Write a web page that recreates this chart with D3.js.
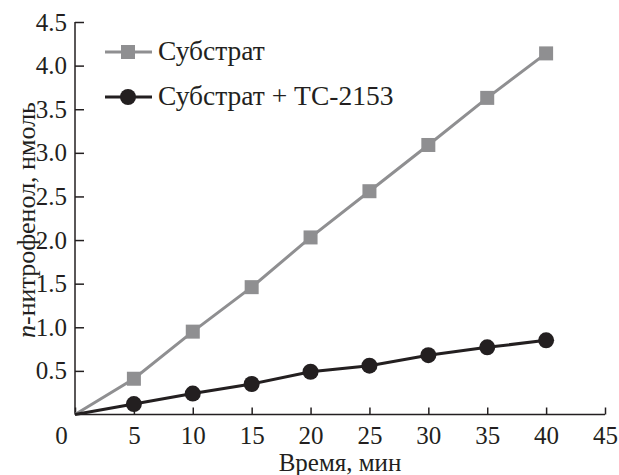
<!DOCTYPE html>
<html>
<head>
<meta charset="utf-8">
<script src="https://cdn.jsdelivr.net/npm/d3@7"></script>
<style>
  html, body { margin: 0; padding: 0; background: #fff; }
  svg { display: block; }
</style>
</head>
<body>
<svg id="chart" width="619" height="475"></svg>
<script>
const times = [0, 5, 10, 15, 20, 25, 30, 35, 40];
const substrate = [0, 0.41, 0.95, 1.46, 2.03, 2.56, 3.09, 3.63, 4.14];
const substrateTC = [0, 0.12, 0.24, 0.35, 0.49, 0.56, 0.68, 0.77, 0.85];
const xTicks = [0, 5, 10, 15, 20, 25, 30, 35, 40, 45];
const yTicks = [0.5, 1.0, 1.5, 2.0, 2.5, 3.0, 3.5, 4.0, 4.5];
const seriesNames = ["Субстрат", "Субстрат + ТС-2153"];

const FONT = '"Liberation Serif"';
const svg = d3.select("#chart");
const x = d3.scaleLinear().domain([0, 45]).range([75, 605]);
const y = d3.scaleLinear().domain([0, 4.5]).range([414.5, 22]);
const grey = "#8f8f91", black = "#231f20";

// axes
const xAxis = svg.append("g").attr("transform", `translate(0,${y(0)})`)
  .call(d3.axisBottom(x).tickValues(xTicks).tickSize(-7).tickPadding(12).tickFormat(d => d));
const yAxis = svg.append("g").attr("transform", `translate(${x(0)},0)`)
  .call(d3.axisLeft(y).tickValues(yTicks).tickSize(-9).tickPadding(6).tickFormat(d3.format(".1f")));
[xAxis, yAxis].forEach(g => {
  g.select(".domain").attr("stroke", black).attr("stroke-width", 1.5);
  g.selectAll(".tick line").attr("stroke", black).attr("stroke-width", 1.5);
  g.selectAll(".tick text").attr("fill", black).style("font-family", FONT).style("font-size", "25px");
});
yAxis.selectAll(".tick text").attr("x", -8);
xAxis.selectAll(".tick").filter(d => d === 0).select("text").attr("dx", -14);
xAxis.select(".domain").attr("d", `M${x(0)},0H${x(45)}`);
yAxis.select(".domain").attr("d", `M0,${y(0)}V${y(4.5)}`);

// lines
const line = d3.line().x((d, i) => x(times[i])).y(d => y(d));
svg.append("path").datum(substrate).attr("d", line).attr("fill", "none").attr("stroke", grey).attr("stroke-width", 3);
svg.append("path").datum(substrateTC).attr("d", line).attr("fill", "none").attr("stroke", black).attr("stroke-width", 3);

// markers (skip origin)
const pts = times.map((t, i) => i).filter(i => times[i] > 0);
svg.selectAll(".sq").data(pts).enter().append("rect")
  .attr("x", i => x(times[i]) - 7).attr("y", i => y(substrate[i]) - 7)
  .attr("width", 14).attr("height", 14).attr("fill", grey);
svg.selectAll(".ci").data(pts).enter().append("circle")
  .attr("cx", i => x(times[i])).attr("cy", i => y(substrateTC[i])).attr("r", 8).attr("fill", black);

// legend
const lg = svg.append("g");
[[52, grey, "sq"], [97, black, "ci"]].forEach(([ly, col, m], k) => {
  lg.append("line").attr("x1", 105).attr("x2", 152).attr("y1", ly).attr("y2", ly).attr("stroke", col).attr("stroke-width", 3);
  if (m === "sq") lg.append("rect").attr("x", 128 - 7).attr("y", ly - 7).attr("width", 14).attr("height", 14).attr("fill", col);
  else lg.append("circle").attr("cx", 128).attr("cy", ly).attr("r", 8).attr("fill", col);
  lg.append("text").attr("x", 158).attr("y", ly + 8).attr("fill", black)
    .style("font-family", FONT).style("font-size", "27.5px").text(seriesNames[k]);
});

// axis titles
svg.append("text").attr("x", (x(0) + x(45)) / 2).attr("y", 471).attr("text-anchor", "middle").attr("fill", black)
  .style("font-family", FONT).style("font-size", "25px").text("Время, мин");
const yt = svg.append("text").attr("transform", `translate(35,${220}) rotate(-90)`).attr("text-anchor", "middle")
  .attr("fill", black).style("font-family", FONT).style("font-size", "26px");
yt.append("tspan").style("font-style", "italic").text("n");
yt.append("tspan").text("-нитрофенол, нмоль");
</script>
</body>
</html>
